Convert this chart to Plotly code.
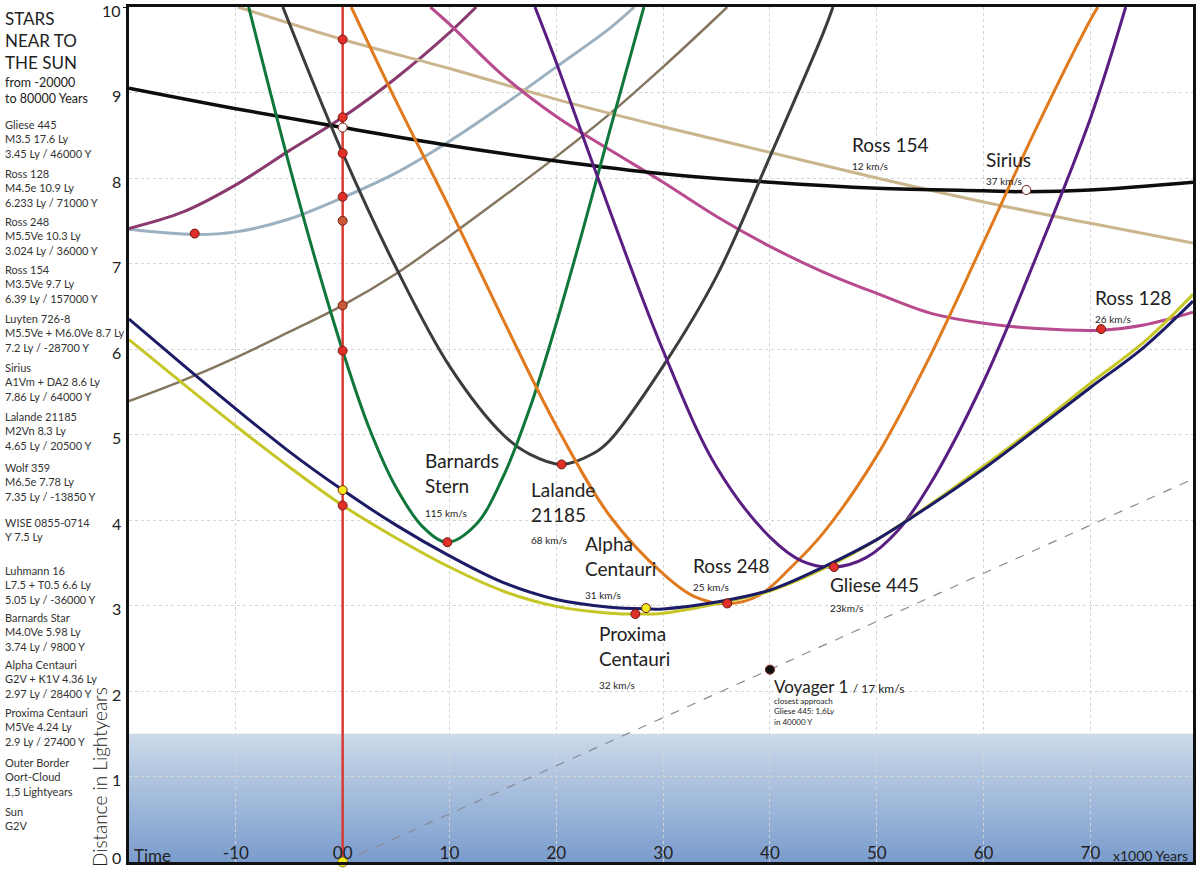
import plotly.graph_objects as go

# time in 1000 years from now, distance in light years
sirius_t = [-20, -10, 0, 10, 20, 30, 40, 50, 60, 64, 70, 79.6]
sirius_d = [9.05, 8.81, 8.59, 8.38, 8.2, 8.05, 7.95, 7.88, 7.85, 7.84, 7.86, 7.95]

ross154_t = [-9.8, 0, 10, 20, 30, 40, 50, 60, 70, 79.6]
ross154_d = [10.0, 9.62, 9.28, 8.92, 8.6, 8.3, 8.0, 7.72, 7.47, 7.24]

luyten_t = [-20, -15, -10, -5, 0, 5, 10, 12.5]
luyten_d = [7.41, 7.6, 7.92, 8.32, 8.71, 9.17, 9.7, 10.0]

wolf_t = [-20, -13.9, -10, -5, 0, 5, 10, 15, 20, 25, 27.3]
wolf_d = [7.4, 7.34, 7.37, 7.52, 7.77, 8.06, 8.43, 8.85, 9.3, 9.75, 10.0]

luhmann_t = [-20, -15, -10, -5, 0, 5, 10, 15, 20, 25, 30, 35, 36]
luhmann_d = [5.39, 5.63, 5.9, 6.2, 6.51, 6.88, 7.32, 7.78, 8.25, 8.75, 9.3, 9.88, 10.0]

lalande_t = [-5.6, 0, 5, 10, 15, 17.5, 20.5, 23.5, 25, 30, 35, 40, 45, 45.9]
lalande_d = [10.0, 8.29, 6.95, 5.8, 5.0, 4.77, 4.65, 4.78, 4.93, 5.8, 6.85, 8.25, 9.7, 10.0]

barnard_t = [-8.8, -5, -2.5, 0, 2.5, 5, 7.5, 9.8, 12.5, 15, 17.5, 20, 22.5, 25, 28.2]
barnard_d = [10.0, 8.15, 7.02, 5.98, 5.07, 4.38, 3.92, 3.74, 3.95, 4.5, 5.3, 6.3, 7.4, 8.55, 10.0]

ross248_t = [0.8, 5, 10, 15, 20, 25, 30, 33, 36, 39, 42, 45, 50, 55, 60, 65, 70, 70.7]
ross248_d = [10.0, 8.9, 7.65, 6.35, 5.1, 4.05, 3.37, 3.1, 3.02, 3.12, 3.45, 3.85, 4.75, 5.92, 7.25, 8.6, 9.85, 10.0]

gliese_t = [18, 20, 25, 30, 35, 40, 43, 46, 49, 52, 55, 60, 65, 70, 73.3]
gliese_d = [10.0, 9.35, 7.62, 5.98, 4.62, 3.8, 3.52, 3.45, 3.56, 3.88, 4.42, 5.62, 7.1, 8.7, 10.0]

ross128_t = [8.2, 10, 15, 20, 25, 30, 35, 40, 45, 50, 55, 60, 65, 71, 75, 79.6]
ross128_d = [10.0, 9.8, 9.2, 8.72, 8.33, 7.95, 7.55, 7.2, 6.9, 6.65, 6.42, 6.3, 6.24, 6.22, 6.28, 6.43]

alpha_t = [-20, -15, -10, -5, 0, 5, 10, 15, 20, 25, 28.4, 30, 35, 40, 45, 50, 55, 60, 65, 70, 75, 79.6]
alpha_d = [6.35, 5.82, 5.3, 4.8, 4.35, 3.94, 3.58, 3.27, 3.07, 2.98, 2.96, 2.96, 3.04, 3.18,
           3.45, 3.77, 4.17, 4.6, 5.07, 5.55, 6.02, 6.56]

proxima_t = [-20, -15, -10, -5, 0, 5, 10, 15, 20, 25, 27.4, 30, 35, 40, 45, 50, 55, 60, 65, 70, 75, 79.6]
proxima_d = [6.11, 5.6, 5.1, 4.62, 4.17, 3.79, 3.45, 3.17, 2.99, 2.91, 2.9, 2.91, 3.02, 3.17,
             3.43, 3.77, 4.18, 4.63, 5.1, 5.6, 6.08, 6.64]

voyager_t = [0, 40, 79.6]
voyager_d = [0, 2.25, 4.48]

# present distances (on the red "now" line)
now_d = [9.62, 8.71, 8.59, 8.29, 7.78, 7.5, 6.51, 5.98, 4.35, 4.17]
now_t = [0, 0, 0, 0, 0, 0, 0, 0, 0, 0]
now_col = ["#e0302a", "#e0302a", "#ffffff", "#e0302a", "#e0302a",
           "#c65a36", "#c65a36", "#e0302a", "#f2ea1c", "#e0302a"]

# closest approaches
close_t = [-13.85, 9.8, 20.5, 27.4, 28.4, 36, 46, 64, 71, 40]
close_d = [7.35, 3.74, 4.65, 2.9, 2.97, 3.024, 3.45, 7.86, 6.233, 2.25]
close_col = ["#e0302a", "#e0302a", "#e0302a", "#e0302a", "#f2ea1c",
             "#e0302a", "#e0302a", "#ffffff", "#e0302a", "#111111"]

oort_d = 1.5

side_text = [
    "Gliese 445<br>M3.5 17.6 Ly<br>3.45 Ly / 46000 Y",
    "Ross 128<br>M4.5e 10.9 Ly<br>6.233 Ly / 71000 Y",
    "Ross 248<br>M5.5Ve 10.3 Ly<br>3.024 Ly / 36000 Y",
    "Ross 154<br>M3.5Ve 9.7 Ly<br>6.39 Ly / 157000 Y",
    "Luyten 726-8<br>M5.5Ve + M6.0Ve 8.7 Ly<br>7.2 Ly / -28700 Y",
    "Sirius<br>A1Vm + DA2 8.6 Ly<br>7.86 Ly / 64000 Y",
    "Lalande 21185<br>M2Vn 8.3 Ly<br>4.65 Ly / 20500 Y",
    "Wolf 359<br>M6.5e 7.78 Ly<br>7.35 Ly / -13850 Y",
    "WISE 0855-0714<br>Y 7.5 Ly",
    "Luhmann 16<br>L7.5 + T0.5 6.6 Ly<br>5.05 Ly / -36000 Y",
    "Barnards Star<br>M4.0Ve 5.98 Ly<br>3.74 Ly / 9800 Y",
    "Alpha Centauri<br>G2V + K1V 4.36 Ly<br>2.97 Ly / 28400 Y",
    "Proxima Centauri<br>M5Ve 4.24 Ly<br>2.9 Ly / 27400 Y",
    "Outer Border<br>Oort-Cloud<br>1,5 Lightyears",
    "Sun<br>G2V",
]
side_py = [122, 171, 219, 268, 317, 366, 415, 466, 521, 569, 616, 664, 712, 762, 811]

xtick_vals = [-10, 0, 10, 20, 30, 40, 50, 60, 70]
xtick_text = ["-10", "00", "10", "20", "30", "40", "50", "60", "70"]
ytick_vals = [0, 1, 2, 3, 4, 5, 6, 7, 8, 9, 10]

FONT = "Lato, Liberation Sans, Arial, sans-serif"
INK = "#222222"

L, R, T, B = 129, 4, 5, 8
W, H = 1200, 870


def px_x(p):
    return (p - L) / (W - L - R)


def px_y(p):
    return (H - B - p) / (H - T - B)


fig = go.Figure()

curves = [
    (luhmann_t, luhmann_d, "#857660", 2.5),
    (wolf_t, wolf_d, "#9cb1c0", 3),
    (luyten_t, luyten_d, "#8a3a6e", 3),
    (ross154_t, ross154_d, "#cbb58d", 3),
    (ross128_t, ross128_d, "#b84a8e", 3),
    (sirius_t, sirius_d, "#0d0d0d", 3.5),
    (lalande_t, lalande_d, "#3c3c3c", 3),
    (barnard_t, barnard_d, "#10773a", 3),
    (ross248_t, ross248_d, "#e07a1e", 3),
    (gliese_t, gliese_d, "#5a1e82", 3),
    (proxima_t, proxima_d, "#c6c626", 3),
    (alpha_t, alpha_d, "#1c1c66", 3),
]
for t, d, c, w in curves:
    fig.add_trace(go.Scatter(x=t, y=d, mode="lines", line=dict(color=c, width=w, shape="spline"),
                             hoverinfo="skip"))

fig.add_trace(go.Scatter(x=voyager_t, y=voyager_d, mode="lines",
                         line=dict(color="#8a8a96", width=1.2, dash="dash"), hoverinfo="skip"))

# the "now" line
fig.add_trace(go.Scatter(x=[0, 0], y=[0, 10], mode="lines",
                         line=dict(color="#d63a32", width=2.5), hoverinfo="skip"))

fig.add_trace(go.Scatter(x=now_t, y=now_d, mode="markers",
                         marker=dict(size=9, color=now_col, line=dict(color="#7a1a10", width=1)),
                         hoverinfo="skip"))
fig.add_trace(go.Scatter(x=close_t, y=close_d, mode="markers",
                         marker=dict(size=9, color=close_col, line=dict(color="#6a1a10", width=1)),
                         hoverinfo="skip"))
# the sun
fig.add_trace(go.Scatter(x=[0], y=[0], mode="markers", cliponaxis=False,
                         marker=dict(size=10, color="#f2ea1c", line=dict(color="#8a7a10", width=1)),
                         hoverinfo="skip"))

# Oort cloud band, drawn as a soft vertical gradient (bands overlap a little to avoid seams)
n = 30
top_rgb = (204, 218, 233)
bot_rgb = (122, 156, 205)
for i in range(n):
    f = (i + 0.5) / n
    rgb = [int(round(bot_rgb[k] + (top_rgb[k] - bot_rgb[k]) * f)) for k in range(3)]
    y1 = oort_d * (i + 1) / n
    if i < n - 1:
        y1 += 0.03
    fig.add_shape(type="rect", xref="paper", yref="y", x0=0, x1=1,
                  y0=oort_d * i / n, y1=y1,
                  fillcolor="rgb(%d,%d,%d)" % tuple(rgb), line_width=0, layer="between")

# small tick joining the top label to the frame
fig.add_shape(type="line", xref="paper", yref="y", x0=px_x(123), x1=0, y0=10, y1=10,
              line=dict(color="#111111", width=2))

ann = []


def label(x, y, text, size, weight=400):
    ann.append(dict(x=x, y=y, xref="x", yref="y", text=text, showarrow=False,
                    xanchor="left", yanchor="top", align="left",
                    font=dict(family=FONT, size=size, color=INK, weight=weight)))


label(7.5, 4.85, "Barnards<br>Stern", 19)
label(7.5, 4.18, "115 km/s", 10)
label(17.4, 4.52, "Lalande<br>21185", 19)
label(17.4, 3.86, "68 km/s", 10)
label(22.5, 3.88, "Alpha<br>Centauri", 19)
label(22.5, 3.22, "31 km/s", 10)
label(23.8, 2.83, "Proxima<br>Centauri", 19)
label(23.8, 2.16, "32 km/s", 10)
label(32.6, 3.63, "Ross 248", 19)
label(32.6, 3.31, "25 km/s", 10)
label(45.4, 3.4, "Gliese 445", 19)
label(45.4, 3.07, "23km/s", 10)
label(47.5, 8.55, "Ross 154", 19)
label(47.5, 8.23, "12 km/s", 10)
label(60.0, 8.37, "Sirius", 19)
label(60.0, 8.06, "37 km/s", 10)
label(70.2, 6.76, "Ross 128", 19)
label(70.2, 6.44, "26 km/s", 10)
label(40.2, 2.2, "Voyager 1 <span style='font-size:12px'>/ 17 km/s</span>", 17)
label(40.2, 1.97, "closest approach<br>Gliese 445: 1,6Ly<br>in 40000 Y", 8)

# y tick labels, set just left of the frame
for v in ytick_vals:
    ann.append(dict(x=px_x(123), y=v, xref="paper", yref="y", xanchor="right",
                    yanchor="bottom" if v == 0 else "middle",
                    yshift=-7 if v == 0 else -3, showarrow=False, text=str(v),
                    font=dict(family=FONT, size=16, color=INK)))

# left column
ann.append(dict(x=px_x(3), y=px_y(4), xref="paper", yref="paper", xanchor="left", yanchor="top",
                align="left", showarrow=False, text="STARS<br>NEAR TO<br>THE SUN",
                font=dict(family=FONT, size=17, color=INK)))
ann.append(dict(x=px_x(3), y=px_y(71), xref="paper", yref="paper", xanchor="left", yanchor="top",
                align="left", showarrow=False, text="from -20000<br>to 80000 Years",
                font=dict(family=FONT, size=12.5, color=INK)))
for txt, py in zip(side_text, side_py):
    ann.append(dict(x=px_x(3), y=px_y(py - 8), xref="paper", yref="paper", xanchor="left",
                    yanchor="top", align="left", showarrow=False, text=txt,
                    font=dict(family=FONT, size=11, color="#333333")))

ann.append(dict(x=px_x(100), y=px_y(869), xref="paper", yref="paper", xanchor="center",
                yanchor="bottom", textangle=-90, showarrow=False, text="Distance in Lightyears",
                font=dict(family=FONT, size=19, color=INK, weight=300)))
ann.append(dict(x=0.003, y=px_y(855), xref="paper", yref="paper", xanchor="left", yanchor="middle",
                showarrow=False, text="Time", font=dict(family=FONT, size=17, color=INK)))
ann.append(dict(x=0.997, y=px_y(855), xref="paper", yref="paper", xanchor="right", yanchor="middle",
                showarrow=False, text="x1000 Years", font=dict(family=FONT, size=14, color=INK)))

fig.update_layout(
    width=W, height=H,
    margin=dict(l=L, r=R, t=T, b=B),
    paper_bgcolor="white", plot_bgcolor="white",
    showlegend=False, hovermode=False,
    annotations=ann,
    xaxis=dict(range=[-20, 79.6], tickvals=xtick_vals, ticktext=xtick_text,
               ticklabelposition="inside", ticks="", showgrid=True,
               gridcolor="#d4d4d4", griddash="dot", gridwidth=1, zeroline=False,
               showline=True, linecolor="#111111", linewidth=3, mirror=True,
               tickfont=dict(family=FONT, size=17, color=INK)),
    yaxis=dict(range=[0, 10], tickvals=ytick_vals, showgrid=True, gridcolor="#d4d4d4",
               griddash="dot", gridwidth=1, zeroline=False, showline=True, linecolor="#111111",
               linewidth=3, mirror=True, ticks="", showticklabels=False),
)

fig.write_html("out.html", config={"displayModeBar": False},
               post_script="document.body.style.margin='0';")
